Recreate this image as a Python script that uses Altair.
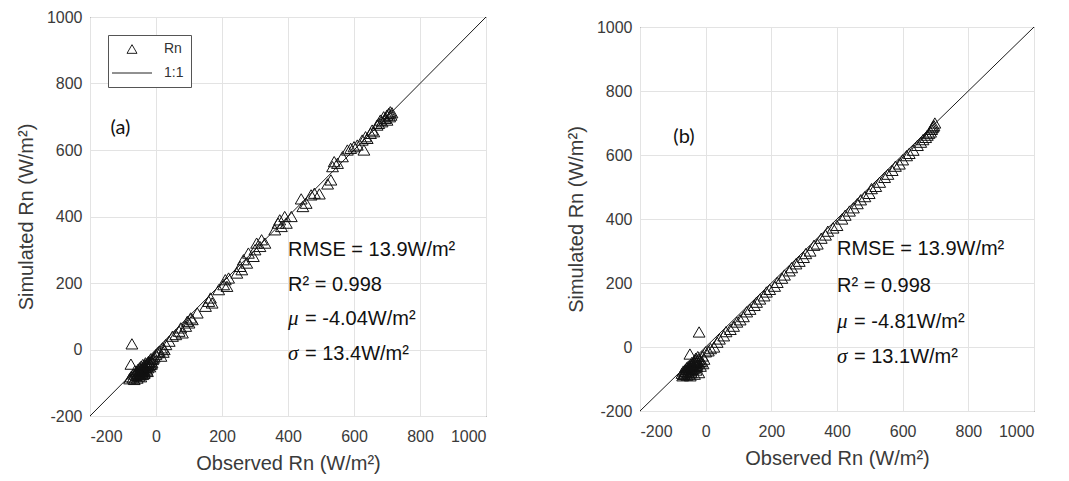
import altair as alt
import pandas as pd

# ---------------- data ----------------
ticks = [-200, 0, 200, 400, 600, 800, 1000]
diag = [-200, 1000]
legend_labels = ["Rn", "1:1"]

obs_a = [-62, -60, -58, -55, -55, -52, -50, -50, -48, -47, -45, -45, -43, -42, -40, -40,
         -38, -37, -35, -35, -33, -32, -30, -30, -28, -27, -25, -25, -22, -20, -18, -15,
         -12, -10, -80, -76, -70, -68, -66, -64, -57, -53, -46, -41, -36, -31, -26, -23,
         -19, -16, -14, -8, -73, -76, -5, 0, 5, 10, 15, 20, 22, 25,
         30, 40, 50, 60, 70, 75, 80, 90, 95, 100, 105, 110, 125, 150, 160, 165, 170,
         190, 205, 210, 215, 220, 245, 255, 260, 265, 275, 280, 295, 300, 305, 315, 320,
         330, 360, 370, 375, 380, 390, 395, 410, 440, 445, 455, 470, 480, 495, 520, 530,
         535, 540, 550, 565, 580, 590, 600, 610, 630, 625, 635, 640, 650, 655, 660, 670,
         675, 680, 685, 690, 695, 700, 700, 705, 708, 710, 712, 715]
sim_a = [-70, -78, -65, -72, -60, -80, -68, -55, -75, -62, -50, -70, -58, -66, -45, -75,
         -55, -62, -48, -68, -52, -40, -58, -45, -62, -50, -42, -55, -48, -38, -45, -35,
         -40, -30, -88, -82, -85, -74, -90, -64, -86, -76, -82, -60, -72, -54, -66, -36,
         -52, -28, -44, -26, 17, -44, -22, -15, -10, -5, -20, 5, -8, 0,
         15, 25, 40, 45, 55, 65, 50, 70, 85, 80, 95, 90, 110, 130, 145, 155, 140,
         180, 195, 210, 190, 215, 230, 250, 240, 270, 260, 290, 280, 300, 320, 310, 330,
         320, 360, 380, 390, 370, 400, 380, 400, 453, 430, 440, 465, 470, 468, 498, 510,
         550, 565, 560, 580, 600, 605, 610, 615, 600, 630, 640, 635, 650, 660, 655, 675,
         680, 690, 685, 700, 695, 705, 690, 710, 700, 715, 705, 712]

obs_b = [-72, -68, -65, -62, -60, -58, -55, -55, -52, -50, -50, -48, -45, -45, -43, -42,
         -40, -40, -38, -36, -35, -33, -32, -30, -30, -28, -27, -25, -24, -22, -20, -18,
         -70, -66, -63, -57, -53, -47, -44, -39, -34, -29, -26, -21, -16, -12, -8, -5,
         -20, -48, -10, 0, 8, 15, 25, 35, 42, 55, 62, 75, 85, 95, 105, 115, 125, 135,
         148, 155, 165, 178, 185, 195, 210, 218, 232, 240, 255, 262, 275, 285, 298, 305,
         318, 330, 340, 352, 365, 372, 388, 400, 415, 425, 438, 450, 462, 472, 485, 498,
         505, 518, 530, 545, 555, 568, 578, 590, 600, 612, 620, 632, 645, 655, 662, 670,
         675, 680, 685, 688, 690, 693, 695, 698]
sim_b = [-82, -75, -85, -70, -78, -65, -80, -62, -72, -58, -84, -68, -55, -75, -62, -48,
         -70, -52, -60, -45, -66, -50, -40, -58, -35, -48, -62, -42, -30, -50, -38, -45,
         -90, -86, -76, -88, -70, -90, -80, -66, -85, -72, -56, -80, -60, -46, -52, -38,
         47, -22, -28, -15, -12, -5, 0, 15, 25, 35, 48, 55, 65, 78, 85, 95, 110, 118,
         130, 140, 150, 160, 172, 180, 190, 202, 215, 225, 238, 248, 260, 268, 280, 292,
         300, 318, 322, 340, 350, 362, 372, 380, 400, 412, 425, 435, 448, 460, 470, 480,
         495, 502, 515, 530, 540, 552, 565, 572, 585, 598, 605, 615, 630, 640, 648, 655,
         662, 668, 672, 680, 685, 688, 692, 700]

# statistics annotations: plain lines, then Greek-symbol lines (symbol + remainder)
plain_a = ["RMSE = 13.9W/m²", "R² = 0.998"]
plain_b = ["RMSE = 13.9W/m²", "R² = 0.998"]
greek_sym = ["μ", "σ"]
greek_a = ["= -4.04W/m²", "= 13.4W/m²"]
greek_b = ["= -4.81W/m²", "= 13.1W/m²"]
stat_x = [400, 400]
plain_a_y = [300, 193]
greek_a_y = [92, -13]
plain_b_y = [306, 191]
greek_b_y = [78, -31]
tag_a = ["(a)"]
tag_a_x = [-108]
tag_a_y = [665]
tag_b = ["(b)"]
tag_b_x = [-66]
tag_b_y = [655]

FONT = "Liberation Sans"
INK = "#262626"


def panel(obs, sim, plain, plain_y, greek, greek_y, tag, tx, ty, w, h):
    xs = alt.Scale(domain=diag, nice=False, zero=False)
    ys = alt.Scale(domain=diag, nice=False, zero=False)
    xax = alt.Axis(values=ticks, title="Observed Rn (W/m²)", labelPadding=12, titlePadding=9,
                   labelExpr="'' + datum.value")
    yax = alt.Axis(values=ticks, title="Simulated Rn (W/m²)", labelPadding=8, titlePadding=10,
                   labelExpr="'' + datum.value")
    x = alt.X("x:Q", scale=xs, axis=xax)
    y = alt.Y("y:Q", scale=ys, axis=yax)

    line = alt.Chart(pd.DataFrame({"x": diag, "y": diag})).mark_line(
        color="#1a1a1a", strokeWidth=1
    ).encode(x=x, y=y)

    pts = alt.Chart(pd.DataFrame({"x": obs, "y": sim, "s": ["Rn"] * len(obs)})).mark_point(
        filled=False, color="#111111", size=140, strokeWidth=1, opacity=1
    ).encode(
        x=x, y=y,
        shape=alt.Shape("s:N", scale=alt.Scale(domain=legend_labels, range=["triangle-up", "M-4,0L4,0"]),
                        legend=alt.Legend(title=None, orient="top-left", offset=18,
                                          labelFont=FONT, labelFontSize=14, labelColor="#333333",
                                          symbolSize=100, symbolStrokeWidth=1, symbolStrokeColor="#222222",
                                          symbolFillColor="transparent", symbolOffset=10, labelOffset=25,
                                          padding=7, rowPadding=10, strokeColor="#555555",
                                          fillColor="white", cornerRadius=0))
    )

    txt = alt.Chart(pd.DataFrame({"x": stat_x, "y": plain_y, "t": plain})).mark_text(
        align="left", baseline="middle", font=FONT, fontSize=20, color="#111111"
    ).encode(x=x, y=y, text="t:N")

    sym = alt.Chart(pd.DataFrame({"x": stat_x, "y": greek_y, "t": greek_sym})).mark_text(
        align="left", baseline="middle", font="Liberation Serif", fontStyle="italic",
        fontSize=21, color="#111111"
    ).encode(x=x, y=y, text="t:N")

    rest = alt.Chart(pd.DataFrame({"x": stat_x, "y": greek_y, "t": greek})).mark_text(
        align="left", baseline="middle", font=FONT, fontSize=20, color="#111111", dx=17
    ).encode(x=x, y=y, text="t:N")

    tg = alt.Chart(pd.DataFrame({"x": tx, "y": ty, "t": tag})).mark_text(
        align="center", baseline="middle", font="Lato", fontSize=20, color="#111111"
    ).encode(x=x, y=y, text="t:N")

    return alt.layer(line, pts, txt, sym, rest, tg).properties(
        width=w, height=h, view=alt.ViewBackground(stroke=INK, strokeWidth=1)
    )


left = panel(obs_a, sim_a, plain_a, plain_a_y, greek_a, greek_a_y, tag_a, tag_a_x, tag_a_y, 396, 399)
right_plot = panel(obs_b, sim_b, plain_b, plain_b_y, greek_b, greek_b_y, tag_b, tag_b_x, tag_b_y, 394, 384)

spacer = alt.Chart(pd.DataFrame({"v": [0]})).mark_rule(opacity=0).encode(
    x=alt.value(0), x2=alt.value(1), y=alt.value(0)
).properties(width=1, height=1, view=alt.ViewBackground(strokeOpacity=0))

right = alt.vconcat(spacer, right_plot, spacing=0)

chart = alt.hconcat(left, right, spacing=76).properties(
    padding={"left": 7, "top": 0, "right": 5, "bottom": 0}
).configure_axis(
    grid=True, gridColor="#e3e3e3", gridWidth=1, domain=False, ticks=False,
    labelFont=FONT, labelFontSize=16, labelColor="#3a3a3a",
    titleFont=FONT, titleFontSize=20, titleFontWeight="normal", titleColor="#3a3a3a"
).configure_view(stroke=INK)

chart.save("out.html", embed_options={"renderer": "svg", "actions": False})
